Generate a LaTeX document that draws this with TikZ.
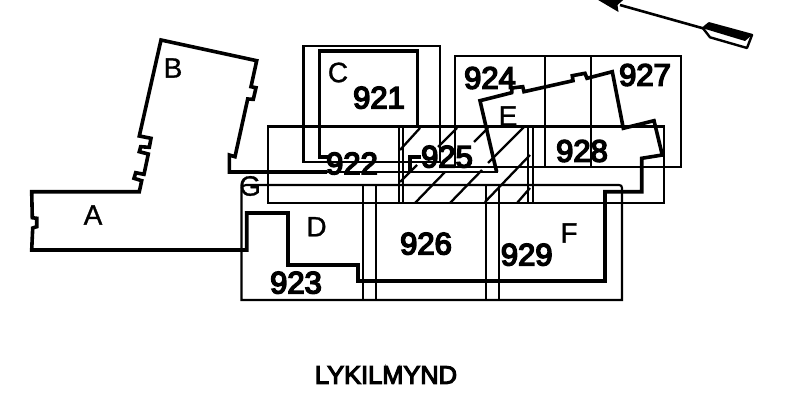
\documentclass[tikz,border=0pt]{standalone}
\usepackage{fontspec}
\setmainfont{Liberation Sans}
\newfontfamily\numfont[FakeBold=5]{Liberation Sans}
\newfontfamily\capfont[FakeBold=4.5]{Liberation Sans}
\newfontfamily\letfont[FakeBold=1]{Liberation Sans}
\begin{document}
\begin{tikzpicture}[x=1pt,y=-1pt,
  thinline/.style={draw=black,line width=2.1pt,line join=miter},
  thickline/.style={draw=black,line width=3.6pt,line join=miter},
  hatchline/.style={draw=black,line width=2.3pt},
  numlabel/.style={font=\fontsize{31}{31}\selectfont\numfont,inner sep=0pt,anchor=center},
  letlabel/.style={font=\fontsize{28}{28}\selectfont\letfont,inner sep=0pt,anchor=center},
  titlelabel/.style={font=\fontsize{25.4}{26}\selectfont\capfont,inner sep=0pt,anchor=center}]
\useasboundingbox (0,0) rectangle (795,410);
\clip (0,0) rectangle (795,410);
% thin frames
\draw[thinline] (303.5,162) -- (303.5,46) -- (440,46) -- (440,162) -- cycle;
\draw[thinline] (267.7,126.5) rectangle (664,203);
\draw[thinline] (455,56) rectangle (680.7,167);
\draw[thinline] (545,56) -- (545,167) (590.7,56) -- (590.7,167);
\draw[thinline] (399,126.5) -- (399,203) (402.7,126.5) -- (402.7,203);
\draw[thinline] (528,126.5) -- (528,203) (532.7,126.5) -- (532.7,203);
\draw[thinline] (241.5,300) -- (241.5,190) .. controls (241.5,186.5) and (243,185) .. (246,185) -- (619,185) .. controls (621,185) and (622,186) .. (622,188) -- (622,300) -- cycle;
\draw[thinline] (363,185) -- (363,300) (376,185) -- (376,300);
\draw[thinline] (485.7,185) -- (485.7,300) (499,185) -- (499,300);
% hatching
\draw[hatchline] (400,182) -- (417,165) (438,147) -- (457,128);
\draw[hatchline] (400,150) -- (420,128);
\draw[hatchline] (415,203) -- (445,172) (474,142) -- (488,128);
\draw[hatchline] (450,203) -- (482,170) (488,163) -- (524,127);
\draw[hatchline] (485,202) -- (530,155);
\draw[hatchline] (517,203) -- (530,188);
% heavy outline
\draw[thickline] (496.7,172) -- (493,156.7) -- (480,100.7) -- (511.7,92.7) -- (512,88) -- (522.7,86.7) -- (524,91.7) -- (573,80.7) -- (572.3,75.7) -- (585,73.3) -- (587,78.3) -- (612.3,71.7) -- (623.3,128.3) -- (654,120.7) -- (662.3,155) -- (641.7,158.3) -- (641.7,191.7) -- (605,191.7) -- (605,281) -- (358,281) -- (358,265) -- (288,265) -- (288,213) -- (246.7,213) -- (246.7,250) -- (31.7,250) -- (32.7,228) -- (36.7,226.7) -- (36.7,218.3) -- (32.3,217.7) -- (31.7,191.7) -- (139.3,191.7) -- (141.7,180.7) -- (134,178.3) -- (135.7,172.7) -- (144,174.3) -- (148.3,154) -- (139.3,151.7) -- (140.7,146.7) -- (149.3,147.3) -- (151,138.3) -- (139.3,136) -- (161,40) -- (256.7,60.7) -- (251,86.7) -- (256,87.7) -- (253.3,99.3) -- (247.7,99) -- (235,156.7) -- (229.3,155) -- (229.3,172) -- (327,172);
\draw[hatchline] (327,172) -- (498,172);
\draw[thickline] (417.3,128) -- (417.3,50.7) -- (319.3,50.7) -- (319.3,156.7) -- (330,156.7);
\draw[thickline] (421,156.7) -- (410,156.7) -- (410,172);
% north arrow
\draw[draw=black,line width=2.6pt] (620,5) -- (703,28.3);
\fill[black] (588,-6) -- (618.5,12) -- (617.5,5) -- (630,-6) -- cycle;
\draw[draw=black,line width=2.4pt,line join=round] (703,28.3) -- (710,37.3) -- (747,48) -- (752,35) -- (709,23.3) -- cycle;
\fill[black] (703,28.3) -- (709,23.3) -- (752,35) -- (745,41) -- cycle;
% labels
\node[numlabel] (n921) at (379,97.7) {921};
\node[numlabel] (n922) at (352,163.5) {922};
\node[numlabel] (n923) at (296,282.7) {923};
\node[numlabel] (n924) at (490,78) {924};
\node[numlabel] (n925) at (447,156.7) {925};
\node[numlabel] (n926) at (426,243.7) {926};
\node[numlabel] (n927) at (645,75) {927};
\node[numlabel] (n928) at (582,151) {928};
\node[numlabel] (n929) at (526.7,254.7) {929};
\node[letlabel] (la) at (93,215) {A};
\node[letlabel] (lb) at (173,68) {B};
\node[letlabel] (lc) at (338,72.5) {C};
\node[letlabel] (ld) at (316.5,226.7) {D};
\node[letlabel] (le) at (508,116) {E};
\node[letlabel] (lf) at (569,233) {F};
\node[letlabel] (lg) at (250,186) {G};
\node[titlelabel] (title) at (386,375) {LYKILMYND};
\end{tikzpicture}
\end{document}
